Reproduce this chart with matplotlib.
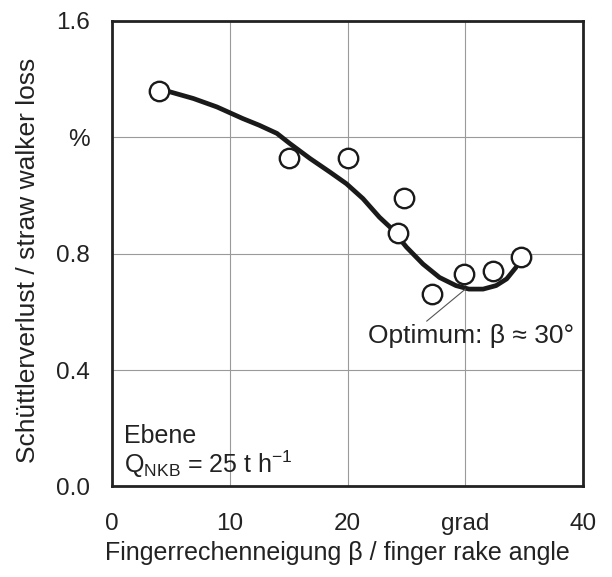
import matplotlib.pyplot as plt

plt.rcParams['font.family'] = ['Liberation Sans', 'DejaVu Sans']

# measured points
beta = [4.0, 15.0, 20.0, 24.8, 24.3, 27.2, 29.9, 32.3, 34.7]
loss = [1.36, 1.13, 1.13, 0.99, 0.87, 0.66, 0.73, 0.74, 0.79]

# fitted curve
curve_beta = [4.9, 6.9, 8.9, 11.1, 12.5, 14.0, 15.1, 16.8, 18.5, 19.9, 21.3,
              22.7, 23.6, 25.0, 26.4, 27.8, 29.2, 30.3, 31.5, 32.6, 33.5, 34.3]
curve_loss = [1.356, 1.333, 1.304, 1.264, 1.241, 1.213, 1.178, 1.127, 1.080, 1.040, 0.989,
              0.925, 0.891, 0.822, 0.764, 0.718, 0.690, 0.678, 0.678, 0.690, 0.713, 0.753]

x_ticks = [0, 10, 20, 30, 40]
x_labels = ['0', '10', '20', 'grad', '40']
y_ticks = [0.0, 0.4, 0.8, 1.2, 1.6]
y_labels = ['0.0', '0.4', '0.8', '%', '1.6']

fs = 17.5
ink = '#222222'

fig, ax = plt.subplots(figsize=(6.12, 5.77), dpi=100)
fig.subplots_adjust(left=0.183, right=0.953, top=0.964, bottom=0.157)

ax.plot(curve_beta, curve_loss, color='#1a1a1a', lw=3.4, solid_capstyle='round',
        solid_joinstyle='round', zorder=3)
ax.plot(beta, loss, 'o', ms=14, mfc='white', mec='#1a1a1a', mew=1.7, zorder=4)

ax.set_xlim(0, 40)
ax.set_ylim(0, 1.6)
ax.set_xticks(x_ticks)
ax.set_xticklabels(x_labels)
ax.set_yticks(y_ticks)
ax.set_yticklabels(y_labels)
ax.tick_params(axis='x', length=0, labelsize=fs, pad=19, colors=ink)
ax.tick_params(axis='y', length=0, labelsize=fs, pad=16, colors=ink)
ax.grid(True, color='#9a9a9a', lw=0.8)
ax.set_axisbelow(True)
for s in ax.spines.values():
    s.set_linewidth(2)
    s.set_color(ink)

ax.set_xlabel('Fingerrechenneigung β / finger rake angle', fontsize=18, color=ink)
ax.xaxis.set_label_coords(0.478, -0.118)
ax.set_ylabel('Schüttlerverlust / straw walker loss', fontsize=19, color=ink)
ax.yaxis.set_label_coords(-0.152, 0.485)

ax.annotate('Optimum: β ≈ 30°', xy=(30.0, 0.678), xytext=(21.7, 0.517),
            fontsize=19, color=ink, va='center', ha='left',
            arrowprops=dict(arrowstyle='-', color='#555555', lw=0.8,
                            shrinkA=0, shrinkB=0, relpos=(0.27, 1.0)))

ax.text(1.0, 0.15, 'Ebene', fontsize=18, color=ink, va='baseline')
ax.text(1.0, 0.045, r'$\mathregular{Q_{NKB}}$ = 25 t h$^{\mathregular{-1}}$', fontsize=18,
        color=ink, va='baseline')

fig.savefig('out.png', dpi=100)
